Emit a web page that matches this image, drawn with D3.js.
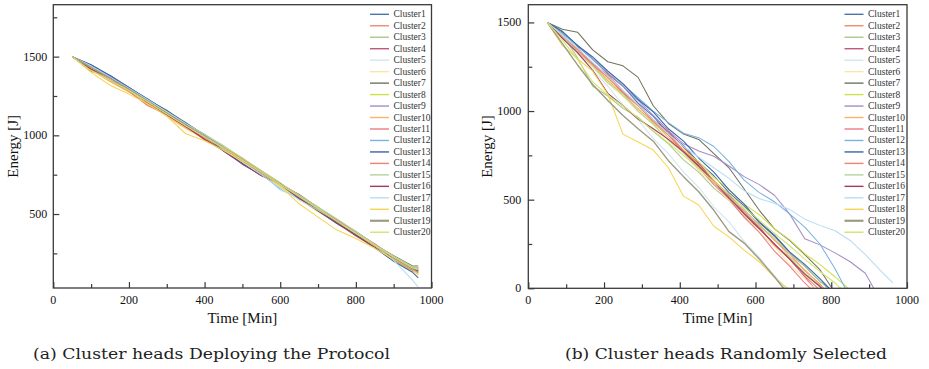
<!DOCTYPE html>
<html><head><meta charset="utf-8">
<script src="https://cdn.jsdelivr.net/npm/d3@7"></script>
<style>
html,body{margin:0;padding:0;background:#fff;}
svg{display:block;}
text{font-family:"Liberation Serif","Times New Roman",Times,serif;}
text.cap{font-family:"DejaVu Serif",serif;}
</style></head>
<body><svg id="c" width="929" height="369"></svg>
<script>
// ---------- data ----------
const clusterNames = ["Cluster1","Cluster2","Cluster3","Cluster4","Cluster5","Cluster6","Cluster7","Cluster8","Cluster9","Cluster10",
  "Cluster11","Cluster12","Cluster13","Cluster14","Cluster15","Cluster16","Cluster17","Cluster18","Cluster19","Cluster20"];
const clusterColors = ["#4a73b0","#f08a6a","#a9c98a","#c05a78","#cfe6f3","#fbe4a8","#6f745e","#d3e04a","#a58cc8","#f9b46a",
  "#ec7a86","#79b3e0","#3a66a6","#f2826a","#b5d49a","#a23a5a","#b8dcf3","#f8d452","#9c9c84","#d4e36a"];
const xTicks = [0,200,400,600,800,1000];
const xMinor = [100,300,500,700,900];
const yTicksA = [500,1000,1500];
const yMinorA = [250,750,1250,1750];
const yTicksB = [0,500,1000,1500];
const yMinorB = [250,750,1250];

// (a) Cluster heads deploying the protocol: time grid [Min] and energy [J]
const timesA = [50,100,150,200,250,300,350,400,450,500,550,600,650,700,750,800,850,900,950,965];
const energyA = [
 [1500,1445,1375,1300,1230,1150,1080,1000,920,845,765,690,615,540,455,380,300,225,160,140],
 [1500,1420,1345,1280,1200,1130,1050,980,910,825,750,675,600,520,445,365,290,210,145,150],
 [1500,1440,1370,1280,1225,1155,1055,1005,905,850,775,670,620,545,440,385,290,230,165,155],
 [1500,1418,1350,1300,1200,1125,1075,975,925,820,745,695,595,520,465,365,310,210,140,160],
 [1500,1448,1375,1295,1235,1150,1085,995,910,830,765,650,610,535,460,380,305,225,150,120],
 [1500,1425,1340,1275,1208,1120,1045,975,900,825,745,675,590,515,440,360,285,205,140,110],
 [1500,1405,1380,1305,1225,1160,1075,1005,925,855,770,690,625,540,465,385,305,235,170,170],
 [1500,1420,1345,1280,1190,1150,1055,1000,930,855,775,700,600,515,445,370,285,210,145,135],
 [1500,1445,1372,1302,1222,1128,1078,1000,925,815,750,690,612,540,460,390,305,228,155,125],
 [1500,1415,1342,1276,1198,1122,1045,978,905,835,755,688,615,525,445,370,290,208,140,120],
 [1500,1442,1368,1292,1210,1148,1072,968,920,845,770,695,618,522,440,365,305,225,152,130],
 [1500,1440,1378,1302,1228,1152,1075,998,908,845,752,660,598,538,462,385,308,230,160,145],
 [1500,1448,1380,1305,1230,1155,1080,1000,900,818,745,690,600,520,440,368,285,200,130,95],
 [1500,1422,1350,1280,1188,1132,1058,985,922,850,772,695,618,542,462,388,310,228,160,155],
 [1500,1438,1365,1295,1222,1150,1075,1005,935,855,775,698,620,545,468,390,305,232,165,160],
 [1500,1420,1368,1296,1206,1132,1055,975,902,822,745,690,600,522,445,362,290,212,145,140],
 [1500,1440,1370,1298,1225,1148,1072,995,915,832,750,665,590,525,455,380,300,205,80,35],
 [1500,1400,1318,1262,1200,1122,1010,965,905,835,760,678,565,480,398,345,282,212,148,115],
 [1500,1432,1362,1292,1218,1142,1068,992,918,840,762,688,610,532,455,378,300,222,152,130],
 [1500,1410,1350,1285,1212,1135,1060,990,920,842,765,688,612,535,455,378,302,226,158,150]
];

// (b) Cluster heads randomly selected: time grid [Min], energy [J] until depletion, final point
const timesB = [50,90,130,170,210,250,290,330,370,410,450,490,530,570,610,650,690,730,770,810,850,890,930];
const energyB = [
 [1500,1445,1365,1295,1210,1140,1045,970,875,805,710,635,540,465,370,295,200,125,40],
 [1500,1420,1350,1265,1205,1115,1035,945,875,775,705,605,530,435,360,270,195,100,25],
 [1500,1430,1300,1140,1085,1015,965,885,815,725,655,565,495,405,335,245,175,85,15],
 [1500,1410,1350,1270,1195,1105,1035,950,885,795,705,605,525,425,345,245,165,65],
 [1500,1415,1325,1230,1140,1035,950,845,760,655,570,460,375,265,175,70],
 [1500,1425,1325,1245,1155,1085,995,925,835,765,665,585,495,415,315,235,135,55],
 [1500,1462,1445,1345,1278,1255,1190,1030,930,870,840,760,680,560,440,335,270,190,105],
 [1500,1425,1350,1255,1180,1085,1015,930,865,780,715,625,560,475,415,335,275,195,135,65],
 [1500,1440,1370,1290,1215,1140,1060,975,890,815,775,745,690,630,585,525,420,280,245,200,150,85],
 [1500,1430,1335,1260,1170,1100,1010,940,850,775,685,610,515,445,350,275,180,105,20],
 [1500,1415,1345,1260,1190,1105,1035,945,865,765,685,585,505,400,315,210,125,30],
 [1500,1435,1370,1295,1225,1150,1075,1000,935,875,850,800,715,610,540,488,420,345,250,110],
 [1500,1450,1370,1305,1225,1155,1065,995,900,830,735,655,555,475,375,300,205,135,55],
 [1500,1420,1355,1265,1195,1100,1030,940,870,775,695,600,520,420,340,245,165,70],
 [1500,1425,1330,1255,1160,1095,1000,925,835,765,675,605,515,445,355,285,195,125,40],
 [1500,1410,1330,1230,1100,1030,955,900,840,770,690,600,510,420,335,250,165,80,10],
 [1500,1430,1355,1275,1195,1115,1035,950,870,800,740,680,620,550,505,480,445,390,355,325,270,190,100],
 [1500,1370,1295,1225,1095,870,825,780,680,520,470,350,290,215,150,60],
 [1500,1380,1260,1150,1060,975,900,830,720,630,545,440,320,255,165,65],
 [1500,1400,1290,1165,1090,1030,960,890,820,750,675,600,530,455,385,310,240,165,95,30]
];
const endTimeB   = [795,780,775,755,680,755,802,845,912,775,745,837,795,765,790,775,963,685,674,825];
const endEnergyB = [0,0,0,0,0,0,0,0,0,0,0,0,0,0,0,0,30,0,0,0];

const captions = ["(a) Cluster heads Deploying the Protocol","(b) Cluster heads Randomly Selected"];

// ---------- drawing ----------
const svg = d3.select("#c");

function panel(o){
  const g = svg.append("g");
  const x = d3.scaleLinear().domain([0,1000]).range([o.left,o.right]);
  const y = d3.scaleLinear().domain(o.yDomain).range([o.bottom,o.top]);
  const clipId = "clip"+o.id;
  svg.append("clipPath").attr("id",clipId).append("rect")
    .attr("x",o.left).attr("y",o.top).attr("width",o.right-o.left).attr("height",o.bottom-o.top);

  const line = d3.line().x(d=>x(d[0])).y(d=>y(d[1]));
  const lg = g.append("g").attr("clip-path","url(#"+clipId+")");
  o.series.forEach((s,i)=>{
    lg.append("path").attr("d",line(s)).attr("fill","none")
      .attr("stroke",clusterColors[i]).attr("stroke-width", i===18?1.4:1.05)
      .attr("stroke-linejoin","round");
  });

  g.append("rect").attr("x",o.left).attr("y",o.top).attr("width",o.right-o.left).attr("height",o.bottom-o.top)
    .attr("fill","none").attr("stroke","#3a3a3a").attr("stroke-width",1.3);

  const xa = g.append("g").attr("transform",`translate(0,${o.bottom})`)
    .call(d3.axisTop(x).tickValues(xTicks).tickSize(6).tickFormat(""));
  const xm = g.append("g").attr("transform",`translate(0,${o.bottom})`)
    .call(d3.axisTop(x).tickValues(xMinor).tickSize(4).tickFormat(""));
  const ya = g.append("g").attr("transform",`translate(${o.left},0)`)
    .call(d3.axisRight(y).tickValues(o.yTicks).tickSize(6).tickFormat(""));
  const ym = g.append("g").attr("transform",`translate(${o.left},0)`)
    .call(d3.axisRight(y).tickValues(o.yMinor).tickSize(4).tickFormat(""));
  [xa,xm,ya,ym].forEach(a=>{
    a.select(".domain").remove();
    a.selectAll("line").attr("stroke","#3a3a3a").attr("stroke-width",1.2);
  });

  g.selectAll(".xl").data(xTicks).enter().append("text")
    .attr("x",d=>x(d)).attr("y",o.bottom+16).attr("text-anchor","middle")
    .attr("font-size",12).attr("fill","#111").text(d=>d);
  g.selectAll(".yl").data(o.yTicks).enter().append("text")
    .attr("x",o.left-o.ylPad).attr("y",d=>y(d)+4).attr("text-anchor","end")
    .attr("font-size",12).attr("fill","#111").text(d=>d);

  g.append("text").attr("x",(o.left+o.right)/2).attr("y",o.bottom+35).attr("text-anchor","middle")
    .attr("font-size",15).attr("fill","#111").text("Time [Min]");
  g.append("text").attr("transform",`translate(${o.ytX},${(o.top+o.bottom)/2}) rotate(-90)`)
    .attr("text-anchor","middle").attr("font-size",15).attr("fill","#111").text("Energy [J]");

  const leg = g.append("g");
  clusterNames.forEach((n,i)=>{
    const yy = 14.3 + i*11.47;
    leg.append("line").attr("x1",o.legX).attr("x2",o.legX+19).attr("y1",yy).attr("y2",yy)
      .attr("stroke",clusterColors[i]).attr("stroke-width", i===18?2.2:1.4);
    leg.append("text").attr("x",o.legX+23.5).attr("y",yy+3).attr("font-size",9.5)
      .attr("fill","#333").text(n);
  });

  g.append("text").attr("class","cap").attr("x",o.capX).attr("y",359).attr("text-anchor","middle")
    .attr("font-size",14.5).attr("fill","#222")
    .attr("textLength",o.capW).attr("lengthAdjust","spacingAndGlyphs").text(o.caption);
}

const seriesA = energyA.map(vals=>vals.map((v,j)=>[timesA[j],v]));
const seriesB = energyB.map((vals,i)=>vals.map((v,j)=>[timesB[j],v]).concat([[endTimeB[i],endEnergyB[i]]]));

panel({id:"a",left:53.3,right:431.5,top:4.7,bottom:288,yDomain:[30,1830],yTicks:yTicksA,yMinor:yMinorA,
  series:seriesA,legX:370,ylPad:6,ytX:18,capX:211.5,capW:357,caption:captions[0]});
panel({id:"b",left:528.3,right:907,top:4.7,bottom:288.3,yDomain:[0,1600],yTicks:yTicksB,yMinor:yMinorB,
  series:seriesB,legX:844.5,ylPad:7,ytX:492,capX:726,capW:322,caption:captions[1]});
</script></body></html>
